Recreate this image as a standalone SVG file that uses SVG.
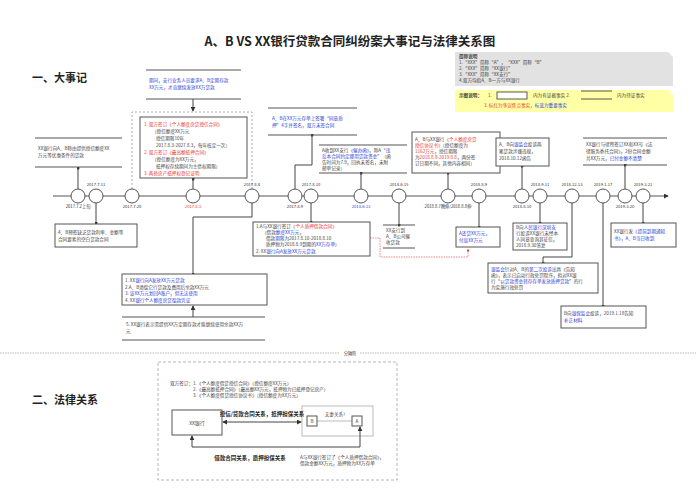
<svg xmlns="http://www.w3.org/2000/svg" width="696" height="500" viewBox="0 0 696 500">
<style>
text{font-family:"Noto Sans CJK SC","Liberation Sans",sans-serif;font-size:4.6px;fill:#444}
.d{font-size:4.2px;fill:#333}
.r{fill:#e53935}.b{fill:#2a3fd6}
.sb{fill:#fff;stroke:#555;stroke-width:1}
.ln{stroke:#555;stroke-width:1}
.c{fill:none;stroke:#444;stroke-width:1}
.circ{fill:#fff;stroke:#555;stroke-width:1}
.h{font-size:11px;font-weight:bold;fill:#222}
</style>
<defs>
<marker id="a" viewBox="0 0 6 6" refX="5" refY="3" markerWidth="5" markerHeight="5" orient="auto-start-reverse"><path d="M0,0L6,3L0,6z" fill="#333"/></marker>
<marker id="dot" viewBox="0 0 4 4" refX="2" refY="2" markerWidth="3" markerHeight="3"><circle cx="2" cy="2" r="2" fill="#333"/></marker>
<marker id="ar" viewBox="0 0 6 6" refX="5" refY="3" markerWidth="5" markerHeight="5" orient="auto"><path d="M0,0L6,3L0,6z" fill="#e53935"/></marker>
</defs>
<rect width="696" height="500" fill="#fff"/>
<text x="350" y="46" text-anchor="middle" style="font-size:12.5px;font-weight:bold;fill:#222">A、B VS XX银行贷款合同纠纷案大事记与法律关系图</text>
<text x="32" y="82" class="h">一、大事记</text>

<g id="legend">
<path d="M455,52H668L673,57V86H455z" fill="#e2e2e2"/>
<text x="459" y="58" style="font-weight:bold">简称说明</text>
<text x="459" y="64">1.“XXX”简称“A”，“XXX”简称“B”</text>
<text x="459" y="70">2.“XXX”简称“XX银行”</text>
<text x="459" y="76">3.“XXX”简称“XX支行”</text>
<text x="459" y="82">4.双方均指A、B一方与XX银行</text>
<path d="M455,90H668L673,95V112H455z" fill="#ffffa6"/>
<text x="459" y="97" style="font-weight:bold">示图说明：</text>
<text x="488" y="97">1.</text>
<rect x="497" y="92" width="30" height="7" fill="#fff" stroke="#333" stroke-width="0.8"/>
<text x="533" y="97">内为有证据事实  2.</text>
<line x1="581" y1="91" x2="612" y2="91" class="ln"/><line x1="581" y1="99" x2="612" y2="99" class="ln"/>
<text x="617" y="97">内为待证事实</text>
<text x="484" y="107"><tspan class="r">3. 标红为争议焦点事实，</tspan><tspan class="b">标蓝为重要事实</tspan></text>
</g>

<g id="connectors">
<line x1="53" y1="196" x2="668" y2="196" class="ln" marker-end="url(#a)"/>
<line x1="78" y1="189" x2="78" y2="168" class="c" marker-end="url(#dot)"/>
<line x1="193" y1="99" x2="193" y2="111" class="c" marker-end="url(#a)"/>
<path d="M132,189V112H252V189" fill="none" stroke="#999" stroke-width="0.8" stroke-dasharray="2,2"/>
<line x1="193" y1="189" x2="193" y2="179" class="c" marker-end="url(#dot)"/>
<path d="M295,189V165H312V135" class="c" marker-end="url(#dot)"/>
<line x1="361" y1="189" x2="361" y2="173" class="c" marker-end="url(#dot)"/>
<line x1="448" y1="189" x2="448" y2="173" class="c" marker-end="url(#dot)"/>
<line x1="522" y1="189" x2="522" y2="166" class="c" marker-end="url(#dot)"/>
<line x1="625" y1="189" x2="625" y2="165" class="c" marker-end="url(#dot)"/>
<line x1="96" y1="203" x2="96" y2="223" class="c" marker-end="url(#dot)"/>
<path d="M252,203V217H193V274" class="c" marker-end="url(#dot)"/>
<line x1="193" y1="317" x2="193" y2="306" class="c" marker-end="url(#a)"/>
<line x1="311" y1="203" x2="311" y2="222" class="c" marker-end="url(#dot)"/>
<line x1="399" y1="203" x2="399" y2="225" class="c" marker-end="url(#dot)"/>
<line x1="479" y1="203" x2="479" y2="227" class="c" marker-end="url(#dot)"/>
<path d="M370,238H380V257H468V249" fill="none" stroke="#e53935" stroke-width="0.6" stroke-dasharray="1.5,1" marker-end="url(#ar)"/>
<line x1="540" y1="203" x2="540" y2="223" class="c" marker-end="url(#dot)"/>
<path d="M572,203V257H543V263" class="c" marker-end="url(#dot)"/>
<line x1="603" y1="203" x2="603" y2="306" class="c" marker-end="url(#dot)"/>
<line x1="643" y1="203" x2="643" y2="223" class="c" marker-end="url(#dot)"/>
</g>

<g id="timeline">
<circle cx="78" cy="196" r="7" class="circ"/><circle cx="96" cy="196" r="7" class="circ"/>
<circle cx="132" cy="196" r="7" class="circ"/><circle cx="193" cy="196" r="7" class="circ"/>
<circle cx="252" cy="196" r="7" class="circ"/><circle cx="295" cy="196" r="7" class="circ"/>
<circle cx="311" cy="196" r="7" class="circ"/><circle cx="361" cy="196" r="7" class="circ"/>
<circle cx="399" cy="196" r="7" class="circ"/><circle cx="448" cy="196" r="7" class="circ"/>
<circle cx="479" cy="196" r="7" class="circ"/><circle cx="522" cy="196" r="7" class="circ"/>
<circle cx="540" cy="196" r="7" class="circ"/><circle cx="572" cy="196" r="7" class="circ"/>
<circle cx="603" cy="196" r="7" class="circ"/><circle cx="625" cy="196" r="7" class="circ"/>
<circle cx="643" cy="196" r="7" class="circ"/>
<g class="d" text-anchor="middle">
<text x="96" y="186" class="d">2017.7.11</text>
<text x="78" y="208" class="d">2017.7.2上旬</text>
<text x="132" y="208" class="d">2017.7.28</text>
<text x="193" y="208" class="d r">2017.8.3</text>
<text x="252" y="186" class="d">2017.8.8</text>
<text x="295" y="208" class="d">2017.8.9</text>
<text x="311" y="186" class="d">2017.8.10</text>
<text x="361" y="208" class="d b">2018.6.13</text>
<text x="399" y="186" class="d">2018.6.15</text>
<text x="448" y="208" class="d">2018.8.7晚伸/2018.8.8伸</text>
<text x="479" y="186" class="d">2018.8.9</text>
<text x="522" y="208" class="d">2018.8.10</text>
<text x="540" y="186" class="d">2018.9.11</text>
<text x="572" y="186" class="d">2018.12.13</text>
<text x="603" y="186" class="d">2019.1.17</text>
<text x="625" y="208" class="d">2019.3.20</text>
<text x="643" y="186" class="d">2019.3.21</text>
</g>
</g>

<g id="n1"><line x1="35" y1="138" x2="122" y2="138" class="ln"/><line x1="35" y1="167" x2="122" y2="167" class="ln"/>
<text x="38" y="150">XX银行向A、B称由提供授信额度XX</text><text x="38" y="157">万元等优惠条件的贷款</text></g>

<g id="n2"><line x1="146" y1="70" x2="241" y2="70" class="ln"/><line x1="146" y1="99" x2="241" y2="99" class="ln"/>
<text x="149" y="82" class="b">期间，支行业务人员要求A、B定期存款</text><text x="149" y="89" class="b">XX万元，才肯继续发放XX万贷款</text></g>

<g id="n3"><rect x="140" y="117" width="107" height="61" class="sb"/>
<text x="144" y="126" class="r">1. 双方签订《个人额度房贷授信合同》</text>
<text x="152" y="133">（授信额度XX万元</text>
<text x="156" y="140">授信期限10年</text>
<text x="156" y="147">2017.8.3-2027.8.3，每年核定一次）</text>
<text x="144" y="154" class="r">2. 双方签订《最高额抵押合同》</text>
<text x="152" y="161">（授信额度为XX万元，</text>
<text x="156" y="168">抵押权存续期间为主债权期限）</text>
<text x="144" y="175" class="r">3. 两处房产抵押权登记证明</text></g>

<g id="n4"><line x1="268" y1="108" x2="357" y2="108" class="ln"/><line x1="268" y1="135" x2="357" y2="135" class="ln"/>
<text x="272" y="120" class="b">A、B在XX万元存单上签署“同意质</text><text x="272" y="127" class="b">押”4字并签名，双方未签合同</text></g>

<g id="n5"><line x1="319" y1="145" x2="407" y2="145" class="ln"/><line x1="319" y1="173" x2="407" y2="173" class="ln"/>
<text x="322" y="152">A收到XX支行<tspan class="b">《催办函》</tspan>，称A“<tspan class="b">违</tspan></text>
<text x="322" y="158"><tspan class="b">反本合同约定挪用贷款资金</tspan>”（函</text>
<text x="322" y="164">告时间为7.9，回执未签名，未附</text>
<text x="322" y="170">邮单记录）</text></g>

<g id="n6"><rect x="412" y="132" width="88" height="41" class="sb"/>
<text x="415" y="141">A、B与XX银行<tspan class="r">《个人额度房贷</tspan></text>
<text x="415" y="147"><tspan class="r">授信协议书》</tspan>（授信额度为</text>
<text x="415" y="153"><tspan class="r">1162万元</tspan>，授信期限</text>
<text x="415" y="159">为<tspan class="r">2018.8.8-2019.8.8</tspan>，两份签</text>
<text x="415" y="165">订日期不同，其他内容相同）</text></g>

<g id="n7"><rect x="496" y="138" width="53" height="28" class="sb"/>
<text x="499" y="146">A、B向<tspan class="b">银监会</tspan>投诉两</text>
<text x="499" y="153">笔贷款涉嫌违规，</text>
<text x="499" y="160">2018.10.12函告</text></g>

<g id="n8"><line x1="583" y1="138" x2="667" y2="138" class="ln"/><line x1="583" y1="165" x2="667" y2="165" class="ln"/>
<text x="586" y="146">XX银行与律所签订XX和XX号《法</text>
<text x="586" y="153">律服务委托合同》，2份合同金额</text>
<text x="586" y="160">共XX万元，<tspan class="b">已付金额不清楚</tspan></text></g>

<g id="n9"><rect x="55" y="224" width="82" height="23" class="sb"/>
<text x="58" y="234">4、B预签缺乏贷款利率、金额等</text><text x="58" y="241">合同要素的空白贷款合同</text></g>

<g id="n10"><rect x="122" y="274" width="145" height="31" class="sb"/>
<text x="125" y="282">1. XX<tspan class="b">银行向A发放XX万元贷款</tspan></text>
<text x="125" y="289">2.A、B清偿它行贷款及费用后余款XX万元</text>
<text x="125" y="295" class="b">3. 该XX万元划回A账户，但无法使用</text>
<text x="125" y="302">4. XX<tspan class="b">银行个人额度房贷偿款凭证</tspan></text></g>

<g id="n11"><line x1="122" y1="317" x2="265" y2="317" class="ln"/><line x1="122" y1="340" x2="265" y2="340" class="ln"/>
<text x="126" y="326">5. XX银行表示需提供XX万定期存款才能继续使用余款XX万</text><text x="126" y="333">元</text></g>

<g id="n12"><rect x="253" y="222" width="117" height="34" class="sb"/>
<text x="256" y="228">1.A与XX银行签订<tspan class="r">《个人质押借款合同》</tspan></text>
<text x="262" y="234">（借款<tspan class="b">额度XX万元</tspan>，</text>
<text x="266" y="240">借款<tspan class="b">期限</tspan>为2017.8.10-2018.8.10</text>
<text x="266" y="246">质押物为2018.8.9到期的<tspan class="b">XX万存单</tspan>）</text>
<text x="256" y="253">2. XX<tspan class="b">银行向A发放XX万元贷款</tspan></text></g>

<g id="n13"><line x1="383" y1="225" x2="415" y2="225" class="ln"/><line x1="383" y1="248" x2="415" y2="248" class="ln"/>
<text x="386" y="232">XX支行到</text><text x="386" y="238">A、B公司催</text><text x="386" y="244">收贷款</text></g>

<g id="n14"><rect x="456" y="227" width="44" height="20" class="sb"/>
<text x="459" y="235" class="b">A还贷XX万元，</text><text x="459" y="242" class="b">付息XX万元</text></g>

<g id="n15"><rect x="513" y="223" width="54" height="27" class="sb"/>
<text x="516" y="229">B向<tspan class="b">人民银行深圳支</tspan></text>
<text x="516" y="235"><tspan class="b">行</tspan>投诉XX银行未经本</text>
<text x="516" y="241">人同意查询其征信，</text>
<text x="516" y="247">2018.9.30答复</text></g>

<g id="n16"><rect x="488" y="263" width="110" height="30" class="sb"/>
<text x="491" y="271"><tspan class="b">银监会</tspan>针对A、B的<tspan class="b">第二次投诉</tspan>出具《告知</text>
<text x="491" y="277">函》，表示已启动行政处罚程序，拟对XX银</text>
<text x="491" y="283">行“<tspan class="b">以贷款资金转存存单发放质押贷款</tspan>”的行</text>
<text x="491" y="289">为实施行政处罚</text></g>

<g id="n17"><rect x="561" y="306" width="85" height="22" class="sb"/>
<text x="564" y="315">B向<tspan class="b">银保监会</tspan>投诉，2019.1.18告知</text>
<text x="564" y="322" class="b">补正材料</text></g>

<g id="n18"><rect x="611" y="223" width="65" height="24" class="sb"/>
<text x="614" y="233">XX银行发<tspan class="b">《提前到期通知</tspan></text>
<text x="614" y="240"><tspan class="b">书》，A、B当日收到</tspan></text></g>

<g id="sep"><line x1="0" y1="353" x2="696" y2="353" stroke="#888" stroke-width="0.6" stroke-dasharray="1.5,1"/>
<rect x="340" y="350" width="20" height="6" fill="#fff"/><text x="350" y="355" text-anchor="middle" class="d">分隔符</text></g>

<text x="32" y="404" class="h">二、法律关系</text>

<g id="legal">
<rect x="158" y="362" width="239" height="118" fill="none" stroke="#999" stroke-width="0.7" stroke-dasharray="3,2"/>
<text x="170" y="385">双方签订：1.《个人额度借贷授信合同》（授信额度XX万元）</text>
<text x="193" y="391">2.《最高额抵押合同》（最高额XX万元，抵押物为已抵押登记房产）</text>
<text x="193" y="397">3.《个人额度借贷授信协议书》（授信额度为XX万元）</text>
</g>
<g id="bank"><rect x="172" y="410" width="50" height="25" class="sb"/><text x="197" y="425" text-anchor="middle" style="font-size:5px">XX银行</text></g>
<g id="couple"><rect x="302" y="406" width="71" height="30" fill="#fff" stroke="#aaa" stroke-width="0.8"/>
<line x1="317" y1="421" x2="352" y2="421" stroke="#aaa" stroke-width="0.8"/>
<text x="335" y="416" text-anchor="middle">夫妻关系?</text></g>
<g id="B"><rect x="307" y="416" width="10" height="10" class="sb"/><text x="312" y="423" text-anchor="middle">B</text></g>
<g id="A"><rect x="352" y="416" width="10" height="10" class="sb"/><text x="357" y="423" text-anchor="middle">A</text></g>
<g id="legal-connectors">
<line x1="223" y1="422" x2="301" y2="422" class="c" marker-start="url(#a)" marker-end="url(#a)"/>
<text x="262" y="416" text-anchor="middle" style="font-size:5.5px;font-weight:bold;fill:#222">授信/贷款合同关系，抵押担保关系</text>
<path d="M192,436V447H360V427" class="c" marker-start="url(#a)" marker-end="url(#a)"/>
<text x="250" y="460" text-anchor="middle" style="font-size:5.5px;font-weight:bold;fill:#222">借款合同关系，质押担保关系</text>
<text x="300" y="459">A与XX银行签订了《个人质押借款合同》，</text>
<text x="300" y="465">借款金额XX万元，质押物为XX万存单</text>
</g>
</svg>
